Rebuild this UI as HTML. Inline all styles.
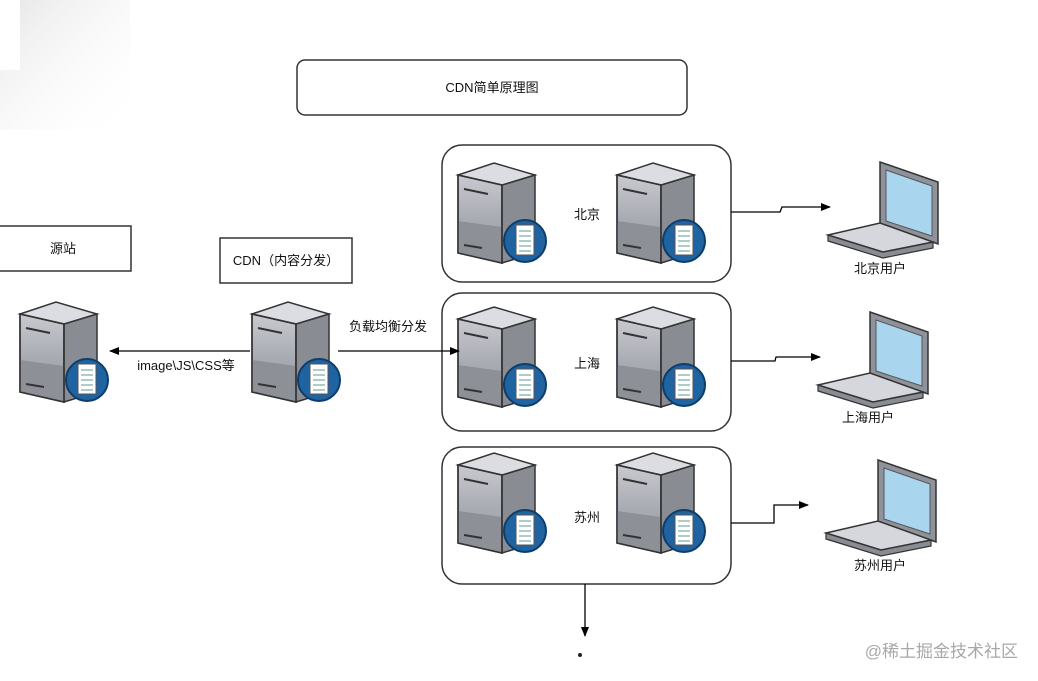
<!DOCTYPE html>
<html><head><meta charset="utf-8"><style>
html,body{margin:0;padding:0;background:#fff;}
body{width:1038px;height:681px;position:relative;overflow:hidden;font-family:"Liberation Sans","Noto Sans CJK SC",sans-serif;}
</style></head><body>
<svg width="1038" height="681" viewBox="0 0 1038 681" xmlns="http://www.w3.org/2000/svg" style="position:absolute;left:0;top:0">
<defs>
<linearGradient id="bg" x1="0" y1="0" x2="1" y2="1">
<stop offset="0" stop-color="#e6e6e6"/><stop offset="1" stop-color="#ffffff" stop-opacity="0"/></linearGradient>
<linearGradient id="lf" x1="0" y1="0" x2="0" y2="1">
<stop offset="0" stop-color="#c9cad0"/><stop offset="0.5" stop-color="#a9abb3"/><stop offset="1" stop-color="#9a9ca4"/></linearGradient>
<g id="srv">
<polygon points="0,14 44,24 44,102 0,92" fill="url(#lf)" stroke="#333" stroke-width="1.5"/>
<polygon points="0,60 44,66 44,102 0,92" fill="#8e9098"/>
<polygon points="44,24 77,14 77,92 44,102" fill="#8a8c94" stroke="#333" stroke-width="1.5"/>
<polygon points="0,14 36,2 77,14 44,24" fill="#dcdde2" stroke="#333" stroke-width="1.5"/>
<polygon points="0,14 44,24 44,102 0,92" fill="none" stroke="#333" stroke-width="1.5"/>
<line x1="6" y1="28" x2="30" y2="33" stroke="#333" stroke-width="2"/>
<line x1="6" y1="84" x2="24" y2="87" stroke="#333" stroke-width="2"/>
<circle cx="67" cy="80" r="21" fill="#1f64a0" stroke="#0d3d6b" stroke-width="2"/>
<rect x="58" y="64" width="18" height="30" fill="#fff" stroke="#555" stroke-width="1"/>
<g stroke="#7aa" stroke-width="1.2"><line x1="61" y1="70" x2="73" y2="70"/><line x1="61" y1="75" x2="73" y2="75"/><line x1="61" y1="80" x2="73" y2="80"/><line x1="61" y1="85" x2="73" y2="85"/><line x1="61" y1="90" x2="73" y2="90"/></g>
</g>
<g id="lap">
<polygon points="52,2 110,22 110,84 52,64" fill="#8f929a" stroke="#333" stroke-width="1.5"/>
<polygon points="58,10 104,26 104,76 58,61" fill="#a9d6ee" stroke="#555" stroke-width="1"/>
<polygon points="0,75 0,81 55,98 105,88 105,82 55,92" fill="#8a8c94" stroke="#333" stroke-width="1.2"/>
<polygon points="0,75 52,63 105,82 55,92" fill="#d6d7dc" stroke="#333" stroke-width="1.5"/>
</g>
<marker id="ah" markerWidth="10" markerHeight="10" refX="9" refY="5" orient="auto" markerUnits="userSpaceOnUse">
<path d="M0,1 L10,5 L0,9 Z" fill="#000"/></marker>
</defs>
<rect x="0" y="0" width="130" height="130" fill="url(#bg)"/>
<rect x="0" y="0" width="20" height="70" fill="#fff"/>

<rect x="297" y="60" width="390" height="55" rx="8" fill="#fff" stroke="#333" stroke-width="1.5"/>
<text x="492" y="92" text-anchor="middle" font-size="13" fill="#111">CDN简单原理图</text>

<rect x="-2" y="226" width="133" height="45" fill="#fff" stroke="#333" stroke-width="1.5"/>
<text x="63" y="253" text-anchor="middle" font-size="13" fill="#111">源站</text>
<rect x="220" y="238" width="132" height="45" fill="#fff" stroke="#333" stroke-width="1.5"/>
<text x="286" y="265" text-anchor="middle" font-size="13" fill="#111">CDN（内容分发）</text>

<rect x="442" y="145" width="289" height="137" rx="20" fill="#fff" stroke="#333" stroke-width="1.5"/>
<rect x="442" y="293" width="289" height="138" rx="20" fill="#fff" stroke="#333" stroke-width="1.5"/>
<rect x="442" y="447" width="289" height="137" rx="20" fill="#fff" stroke="#333" stroke-width="1.5"/>

<use href="#srv" x="20" y="300"/>
<use href="#srv" x="252" y="300"/>
<use href="#srv" x="458" y="161"/>
<use href="#srv" x="617" y="161"/>
<use href="#srv" x="458" y="305"/>
<use href="#srv" x="617" y="305"/>
<use href="#srv" x="458" y="451"/>
<use href="#srv" x="617" y="451"/>

<text x="587" y="219" text-anchor="middle" font-size="13" fill="#111">北京</text>
<text x="587" y="368" text-anchor="middle" font-size="13" fill="#111">上海</text>
<text x="587" y="522" text-anchor="middle" font-size="13" fill="#111">苏州</text>

<line x1="250" y1="351" x2="110" y2="351" stroke="#000" stroke-width="1.3" marker-end="url(#ah)"/>
<text x="186" y="370" text-anchor="middle" font-size="13" fill="#111">image\JS\CSS等</text>
<line x1="338" y1="351" x2="459" y2="351" stroke="#000" stroke-width="1.3" marker-end="url(#ah)"/>
<text x="388" y="331" text-anchor="middle" font-size="13" fill="#111">负载均衡分发</text>

<polyline points="731,212 780,212 782,207 830,207" fill="none" stroke="#000" stroke-width="1.3" marker-end="url(#ah)"/>
<polyline points="731,361 775,361 776,357 820,357" fill="none" stroke="#000" stroke-width="1.3" marker-end="url(#ah)"/>
<polyline points="731,523 774,523 774,505 808,505" fill="none" stroke="#000" stroke-width="1.3" marker-end="url(#ah)"/>
<line x1="585" y1="584" x2="585" y2="636" stroke="#000" stroke-width="1.3" marker-end="url(#ah)"/>
<circle cx="580" cy="655" r="2" fill="#222"/>

<use href="#lap" x="828" y="160"/>
<use href="#lap" x="818" y="310"/>
<use href="#lap" x="826" y="458"/>
<text x="880" y="273" text-anchor="middle" font-size="13" fill="#111">北京用户</text>
<text x="868" y="422" text-anchor="middle" font-size="13" fill="#111">上海用户</text>
<text x="880" y="570" text-anchor="middle" font-size="13" fill="#111">苏州用户</text>

<text x="1018" y="657" text-anchor="end" font-size="17" fill="#a8a8a8">@稀土掘金技术社区</text>
</svg>
</body></html>
